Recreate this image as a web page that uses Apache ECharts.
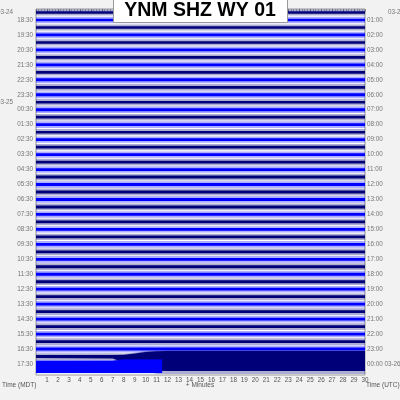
<!DOCTYPE html>
<html><head><meta charset="utf-8">
<script src="https://cdn.jsdelivr.net/npm/echarts@6/dist/echarts.min.js"></script>
<style>html,body{margin:0;padding:0;background:#f2f2f2}#c{width:400px;height:400px}</style>
</head><body><div id="c"></div>
<script>
// ---- data ----
const minuteLabels = [1,2,3,4,5,6,7,8,9,10,11,12,13,14,15,16,17,18,19,20,21,22,23,24,25,26,27,28,29,30];
const leftTimeLabels = ['18:30','19:30','20:30','21:30','22:30','23:30','00:30','01:30','02:30','03:30','04:30','05:30','06:30','07:30','08:30','09:30','10:30','11:30','12:30','13:30','14:30','15:30','16:30','17:30'];
const rightTimeLabels = ['01:00','02:00','03:00','04:00','05:00','06:00','07:00','08:00','09:00','10:00','11:00','12:00','13:00','14:00','15:00','16:00','17:00','18:00','19:00','20:00','21:00','22:00','23:00','00:00 03-26'];
const leftDateLabels = [[0,'03-24'],[12,'03-25']];
const rightDateLabels = [[0,'03-25']];
// per-row half amplitude (in row spacings): solid core and noisy fringe
const rowCore = [0.16,0.18,0.17,0.18,0.17,0.19,0.18,0.19,0.18,0.2,0.19,0.19,0.18,0.19,0.18,0.19,0.17,0.18,0.18,0.18,0.19,0.18,0.19,0.19,0.2,0.19,0.19,0.18,0.18,0.18,0.18,0.19,0.19,0.19,0.2,0.19,0.19,0.18,0.18,0.19,0.19,0.19,0.19,0.18,0.19,0.2,0.2,0.5];
const rowFringe = [0.4,0.42,0.41,0.43,0.42,0.45,0.43,0.45,0.43,0.46,0.45,0.45,0.43,0.45,0.43,0.45,0.41,0.43,0.43,0.43,0.45,0.43,0.45,0.45,0.46,0.45,0.45,0.43,0.43,0.43,0.43,0.45,0.45,0.45,0.46,0.45,0.45,0.43,0.43,0.45,0.45,0.45,0.45,0.43,0.45,0.46,0.46,0.6];
// special envelopes: [minute, up, down]
const row46Env = [[0,0.2,0.2],[7,0.2,0.25],[8,0.25,0.8],[9,0.4,1.2],[10,0.6,1.6],[11,0.72,1.9],[12,0.74,1.95],[30,0.74,1.95]];
const row46Fringe = [[0,0.45,0.45],[7,0.45,0.5],[8,0.4,1.0],[9,0.5,1.5],[10,0.7,1.9],[11,0.78,2.3],[12,0.8,2.35],[30,0.8,2.35]];
const row47Env = [[0,0.45,1.2],[7,0.45,1.2],[8,0.6,1.2],[11.5,0.6,1.2]];
const row47Fringe = [[0,0.55,1.25],[7,0.55,1.25],[8,0.65,1.25],[11.5,0.65,1.25]];
const colors = ['#000078','#0000ff'];

function envelope(row, core) {
  if (row === 46) return core ? row46Env : row46Fringe;
  if (row === 47) return core ? row47Env : row47Fringe;
  const a = core ? rowCore[row] : rowFringe[row];
  return [[0,a,a],[30,a,a]];
}
const rows = [];
for (let r = 0; r < 48; r++) rows.push([r]);

const leftLab = leftTimeLabels.map((t,i)=>[0, 2*i+1, t]);
const rightLab = rightTimeLabels.map((t,i)=>[30, 2*i+1, t]);

const chart = echarts.init(document.getElementById('c'), null, {renderer:'canvas'});
function poly(api, row, env) {
  const pts = [];
  env.forEach(e => pts.push(api.coord([e[0], row - e[1]])));
  for (let i = env.length-1; i >= 0; i--) pts.push(api.coord([env[i][0], row + env[i][2]]));
  return pts;
}
const labelFont = {fontFamily:'Liberation Sans', fontSize:6.3, color:'#555'};
chart.setOption({
  backgroundColor:'#f2f2f2',
  animation:false,
  grid:{left:36, right:35, top:9, bottom:25, show:true, backgroundColor:'#fff', borderColor:'#999', borderWidth:1},
  xAxis:[
    {type:'value', min:0, max:30, interval:1, position:'bottom',
     axisLine:{show:false}, axisTick:{show:false}, splitLine:{show:false},
     axisLabel:Object.assign({margin:2, formatter:v=> minuteLabels.includes(v)? String(v):''}, labelFont)},
    {type:'value', min:0, max:30, interval:1, position:'top',
     axisLine:{show:false}, axisTick:{show:true, inside:true, length:3, lineStyle:{color:'#888'}},
     minorTick:{show:true, splitNumber:4, length:2, lineStyle:{color:'#aaa'}},
     axisLabel:{show:false}, splitLine:{show:false}}
  ],
  yAxis:{type:'value', min:-0.47, max:48.47, inverse:true, show:false},
  series:[
    {type:'custom', data:rows, clip:true,
     renderItem:(params, api)=>{
       const r = api.value(0);
       const col = colors[r % 2];
       return {type:'group', children:[
         {type:'polygon', shape:{points:poly(api, r, envelope(r,false))}, style:{fill:col, opacity:0.32}},
         {type:'polygon', shape:{points:poly(api, r, envelope(r,true))}, style:{fill:col}}
       ]};
     }},
    {type:'scatter', data:leftLab, symbolSize:0, silent:true,
     label:Object.assign({show:true, position:'left', distance:3, formatter:p=>p.value[2]}, labelFont)},
    {type:'scatter', data:rightLab, symbolSize:0, silent:true,
     label:Object.assign({show:true, position:'right', distance:2, formatter:p=>p.value[2]}, labelFont)},
    {type:'scatter', data:leftDateLabels.map(d=>[0,d[0],d[1]]), symbolSize:0, silent:true,
     label:Object.assign({show:true, position:'left', distance:23, formatter:p=>p.value[2]}, labelFont)},
    {type:'scatter', data:rightDateLabels.map(d=>[30,d[0],d[1]]), symbolSize:0, silent:true,
     label:Object.assign({show:true, position:'right', distance:23, formatter:p=>p.value[2]}, labelFont)}
  ],
  graphic:[
    {type:'rect', left:113, top:-1, shape:{width:174, height:23}, style:{fill:'#fff', stroke:'#999', lineWidth:1}, z:100},
    {type:'text', left:'center', top:1, style:{text:'YNM SHZ WY 01', font:'bold 19.5px "Liberation Sans"', fill:'#000'}, z:101},
    {type:'text', left:2, top:382, style:{text:'Time (MDT)', font:'6.5px "Liberation Sans"', fill:'#555'}},
    {type:'text', left:'center', top:382, style:{text:'+ Minutes', font:'6.5px "Liberation Sans"', fill:'#555'}},
    {type:'text', left:366, top:382, style:{text:'Time (UTC)', font:'6.5px "Liberation Sans"', fill:'#555'}}
  ]
});
</script></body></html>
